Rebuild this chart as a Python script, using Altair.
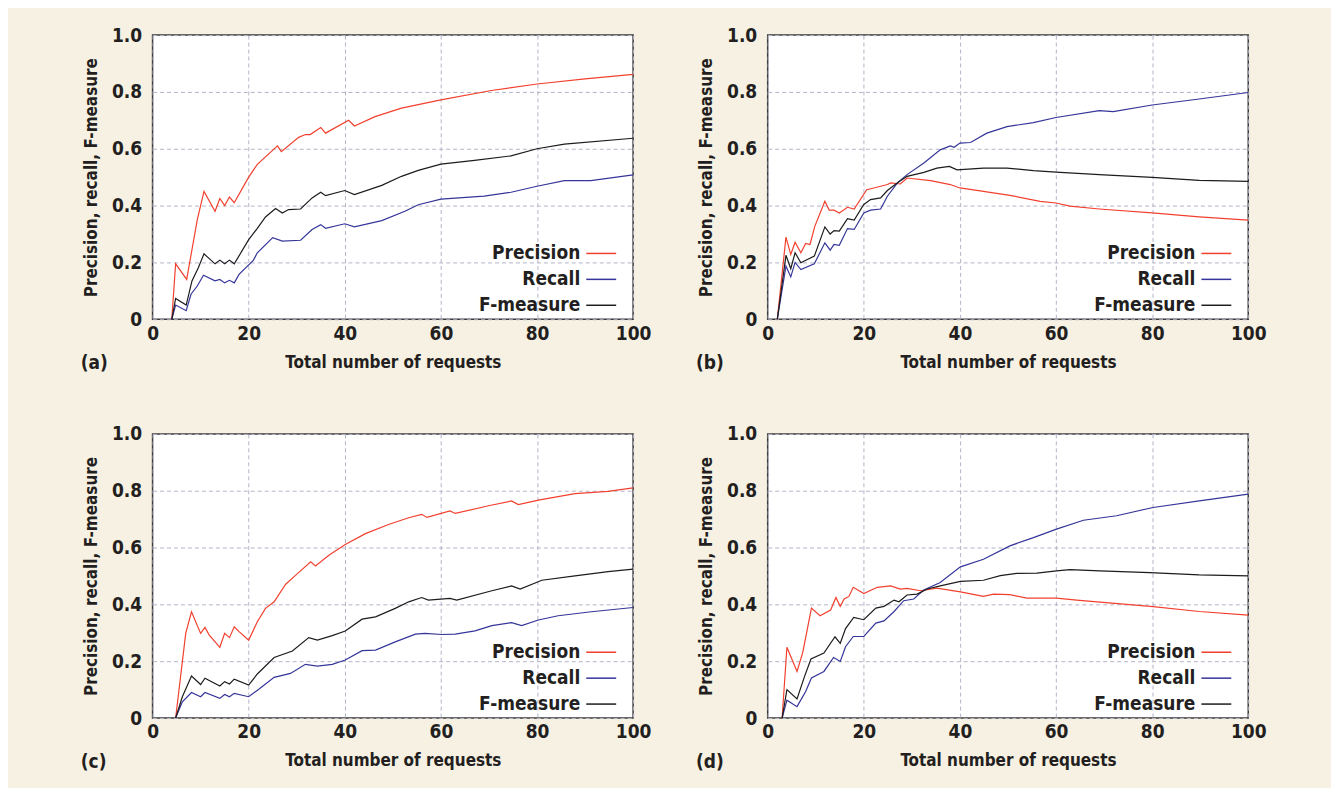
import altair as alt
import pandas as pd

# ---------------- data ----------------
# Panel (a)
a_prec_x = [4, 4.8, 7.1, 9.3, 10.7, 13, 14, 15, 16, 17, 20, 21.8, 26, 26.8, 30.4, 31.8, 32.8, 35, 36, 40.8, 42, 46.3, 51.8, 60, 70.5, 80, 90, 100]
a_prec_y = [0, 0.195, 0.14, 0.35, 0.45, 0.38, 0.425, 0.40, 0.43, 0.41, 0.50, 0.545, 0.61, 0.59, 0.64, 0.65, 0.65, 0.675, 0.655, 0.70, 0.68, 0.713, 0.743, 0.772, 0.805, 0.828, 0.846, 0.862]
a_rec_x = [4, 4.8, 7, 8, 9.3, 10.6, 13, 14, 15, 16, 17, 18, 21, 21.8, 25, 27, 30.8, 33.2, 35, 36, 40, 42, 47.7, 52.5, 55.3, 60, 69, 74.6, 80, 85.7, 91.2, 100]
a_rec_y = [0, 0.05, 0.03, 0.088, 0.117, 0.155, 0.135, 0.14, 0.128, 0.137, 0.128, 0.158, 0.208, 0.234, 0.287, 0.275, 0.278, 0.316, 0.333, 0.32, 0.336, 0.325, 0.347, 0.38, 0.403, 0.423, 0.433, 0.447, 0.468, 0.488, 0.488, 0.508]
a_f_x = [4, 4.8, 7, 8.2, 9.5, 10.7, 13, 14, 15, 16, 17, 20, 21.8, 23.5, 25.6, 27, 28.3, 30.8, 33.2, 35, 36, 40, 42, 47.7, 51.8, 55.3, 60, 67, 74.6, 80, 85.7, 100]
a_f_y = [0, 0.073, 0.05, 0.135, 0.18, 0.23, 0.195, 0.208, 0.195, 0.208, 0.195, 0.28, 0.32, 0.36, 0.39, 0.374, 0.386, 0.388, 0.427, 0.447, 0.435, 0.453, 0.439, 0.471, 0.503, 0.524, 0.546, 0.559, 0.575, 0.60, 0.616, 0.637]

# Panel (b)
b_prec_x = [2, 3.8, 4.8, 5.7, 6.9, 7.9, 8.8, 9.8, 11.9, 12.8, 13.8, 14.9, 16.6, 18, 20.6, 22.1, 24.9, 25.6, 27.6, 29, 33.9, 38, 40, 44.9, 50.4, 56.7, 60, 62.9, 69, 80, 89.8, 100]
b_prec_y = [0, 0.289, 0.228, 0.271, 0.234, 0.267, 0.263, 0.327, 0.415, 0.384, 0.384, 0.374, 0.394, 0.388, 0.456, 0.462, 0.474, 0.48, 0.476, 0.497, 0.488, 0.474, 0.462, 0.45, 0.436, 0.415, 0.409, 0.398, 0.388, 0.374, 0.36, 0.349]
b_rec_x = [2, 3.8, 4.8, 5.7, 6.9, 9.7, 11.9, 13, 13.8, 14.9, 16.6, 18, 20, 21.4, 23.5, 24.9, 27, 29, 32.5, 35.9, 38, 38.8, 40, 42.2, 45.6, 49.8, 55.3, 60, 69, 71.9, 80, 89.8, 100]
b_rec_y = [0, 0.187, 0.149, 0.2, 0.175, 0.195, 0.269, 0.243, 0.263, 0.26, 0.319, 0.316, 0.374, 0.384, 0.388, 0.433, 0.48, 0.509, 0.55, 0.596, 0.61, 0.605, 0.62, 0.622, 0.655, 0.678, 0.692, 0.71, 0.734, 0.731, 0.754, 0.775, 0.798]
b_f_x = [2, 3.8, 4.8, 5.7, 6.9, 9.7, 11.9, 13, 13.8, 14.9, 16.6, 18, 20, 21.4, 23.5, 24.9, 27, 29, 32.5, 35.2, 37.8, 39.4, 44.9, 49.8, 55.3, 60, 69, 80, 89.8, 100]
b_f_y = [0, 0.225, 0.178, 0.234, 0.199, 0.222, 0.325, 0.30, 0.312, 0.31, 0.354, 0.349, 0.404, 0.421, 0.427, 0.453, 0.48, 0.503, 0.517, 0.532, 0.538, 0.526, 0.532, 0.532, 0.523, 0.518, 0.509, 0.499, 0.489, 0.485]

# Panel (c)
c_prec_x = [4.8, 6.9, 8.1, 10, 10.9, 11.8, 14, 15, 16, 17, 18, 20, 21.8, 23.5, 25.3, 27.7, 29.8, 32.9, 33.9, 36.7, 40.1, 44.3, 49.1, 53.3, 56, 57.1, 61.9, 63, 69.9, 74.7, 76.1, 80.3, 87.9, 94.8, 100]
c_prec_y = [0, 0.298, 0.374, 0.298, 0.319, 0.292, 0.249, 0.298, 0.283, 0.321, 0.304, 0.274, 0.339, 0.386, 0.409, 0.471, 0.503, 0.55, 0.535, 0.573, 0.611, 0.649, 0.681, 0.705, 0.717, 0.706, 0.729, 0.72, 0.747, 0.764, 0.751, 0.767, 0.79, 0.798, 0.81]
c_rec_x = [4.8, 6.2, 8.1, 10, 10.9, 14, 15, 16, 17, 20, 22.1, 25.3, 28.7, 31.8, 34.3, 37.4, 40.1, 43.6, 46.4, 50.5, 54.7, 56.7, 60.2, 63, 67.1, 70.6, 74.7, 76.8, 80.3, 84.4, 91.3, 100]
c_rec_y = [0, 0.057, 0.09, 0.075, 0.09, 0.069, 0.083, 0.075, 0.087, 0.075, 0.101, 0.143, 0.157, 0.189, 0.183, 0.189, 0.204, 0.237, 0.239, 0.268, 0.295, 0.298, 0.294, 0.295, 0.307, 0.325, 0.336, 0.325, 0.345, 0.36, 0.374, 0.389]
c_f_x = [4.8, 6.2, 8.1, 10, 10.9, 14, 15, 16, 17, 20, 21.8, 25.3, 29.1, 32.5, 34.3, 37.4, 40.1, 43.6, 46.4, 50.5, 53.3, 56, 57.4, 61.9, 63.3, 70.6, 74.7, 76.5, 81, 87.9, 94.8, 100]
c_f_y = [0, 0.075, 0.148, 0.118, 0.14, 0.113, 0.128, 0.12, 0.137, 0.116, 0.155, 0.213, 0.236, 0.283, 0.274, 0.29, 0.306, 0.348, 0.356, 0.386, 0.409, 0.424, 0.415, 0.421, 0.415, 0.448, 0.465, 0.454, 0.485, 0.50, 0.515, 0.524]

# Panel (d)
d_prec_x = [3, 4, 6.1, 7.3, 9.1, 10.9, 13.1, 14.2, 15.1, 15.9, 16.9, 17.8, 20, 22.8, 25.6, 27.6, 29, 31.8, 35.2, 40.1, 44.9, 47, 50.4, 53.9, 60.1, 64.3, 69.8, 80.2, 89.8, 100]
d_prec_y = [0, 0.249, 0.164, 0.231, 0.387, 0.36, 0.38, 0.424, 0.393, 0.419, 0.428, 0.46, 0.438, 0.46, 0.465, 0.454, 0.456, 0.448, 0.457, 0.444, 0.428, 0.436, 0.434, 0.422, 0.422, 0.415, 0.407, 0.392, 0.375, 0.362]
d_rec_x = [3, 4, 6.1, 7.9, 9.1, 11.7, 13.7, 15.1, 16.2, 17.8, 20, 22.5, 24.2, 26.3, 28.3, 30.4, 32.5, 35.9, 40.1, 44.9, 50.4, 55.3, 60.1, 65.7, 72.6, 80.2, 89.8, 100]
d_rec_y = [0, 0.063, 0.04, 0.093, 0.141, 0.164, 0.213, 0.199, 0.251, 0.287, 0.287, 0.334, 0.342, 0.375, 0.413, 0.419, 0.451, 0.477, 0.532, 0.559, 0.606, 0.635, 0.665, 0.696, 0.712, 0.741, 0.764, 0.788]
d_f_x = [3, 4, 6.1, 7.6, 9, 11.7, 14, 15.1, 16.2, 17.9, 20, 22.5, 24.2, 26.3, 27.3, 29, 31.1, 33.2, 35.9, 40.1, 44.9, 48.4, 51.8, 56, 60.1, 62.9, 69.1, 79.5, 89.8, 100]
d_f_y = [0, 0.1, 0.067, 0.143, 0.208, 0.229, 0.286, 0.263, 0.315, 0.354, 0.346, 0.387, 0.393, 0.415, 0.409, 0.433, 0.436, 0.454, 0.465, 0.481, 0.485, 0.501, 0.509, 0.51, 0.518, 0.522, 0.518, 0.512, 0.504, 0.50]

series_names = ["Precision", "Recall", "F-measure"]
series_colors = ["#f2402f", "#35359a", "#1c1c1c"]
panel_tags = ["(a)", "(b)", "(c)", "(d)"]
x_ticks = [0, 20, 40, 60, 80, 100]
y_ticks = [0, 0.2, 0.4, 0.6, 0.8, 1.0]

FONT = "DejaVu Sans Condensed, Liberation Sans Narrow, sans-serif"
TXT = "#231f20"
W, H = 482, 285


def make_df(px, py, rx, ry, fx, fy):
    rows = []
    for name, xs, ys in zip(series_names, [px, rx, fx], [py, ry, fy]):
        for i, (xv, yv) in enumerate(zip(xs, ys)):
            rows.append({"x": xv, "y": yv, "series": name, "order": i})
    return pd.DataFrame(rows)


def panel(df, tag):
    lines = alt.Chart(df).mark_line(strokeWidth=1.2).encode(
        x=alt.X("x:Q",
                scale=alt.Scale(domain=[0, 100], nice=False, zero=True),
                axis=alt.Axis(values=x_ticks, title="Total number of requests",
                              labelFlush=False, labelPadding=5, titlePadding=11)),
        y=alt.Y("y:Q",
                scale=alt.Scale(domain=[0, 1], nice=False),
                axis=alt.Axis(values=y_ticks, title="Precision, recall, F-measure",
                              labelFlush=False,
                              labelExpr="datum.value == 0 ? '0' : format(datum.value, '.1f')",
                              labelPadding=11, titlePadding=11)),
        color=alt.Color("series:N",
                        scale=alt.Scale(domain=series_names, range=series_colors),
                        legend=alt.Legend(title=None, orient="none", legendX=434, legendY=203,
                                          symbolType="stroke", symbolSize=900,
                                          symbolStrokeWidth=1.5, labelAlign="right",
                                          labelOffset=alt.ExprRef("-37"), rowPadding=0,
                                          labelFont=FONT, labelFontSize=19,
                                          labelFontWeight="bold", labelColor=TXT)),
        order="order:Q",
        detail="series:N",
    )
    label = alt.Chart(pd.DataFrame({"t": [tag]})).mark_text(
        align="left", baseline="alphabetic", font=FONT, fontSize=19,
        fontWeight="bold", color=TXT
    ).encode(text="t:N", x=alt.value(-72), y=alt.value(H + 50))
    return alt.layer(lines, label).properties(width=W, height=H)


pa = panel(make_df(a_prec_x, a_prec_y, a_rec_x, a_rec_y, a_f_x, a_f_y), panel_tags[0])
pb = panel(make_df(b_prec_x, b_prec_y, b_rec_x, b_rec_y, b_f_x, b_f_y), panel_tags[1])
pc = panel(make_df(c_prec_x, c_prec_y, c_rec_x, c_rec_y, c_f_x, c_f_y), panel_tags[2])
pd_ = panel(make_df(d_prec_x, d_prec_y, d_rec_x, d_rec_y, d_f_x, d_f_y), panel_tags[3])

chart = alt.concat(
    pa, pb, pc, pd_, columns=2,
    spacing=alt.RowColnumber(row=115, column=135), bounds="flush",
).resolve_legend(color="independent").resolve_scale(color="independent").properties(
    background="#f7f1e3",
    padding={"left": 72, "top": 16, "right": 64, "bottom": 14},
).configure(
    font=FONT,
).configure_view(
    fill="white", stroke="#3a3a3a", strokeWidth=1.5
).configure_axis(
    labelFont=FONT, labelFontSize=19, labelFontWeight="bold", labelColor=TXT,
    titleFont=FONT, titleFontSize=17, titleFontWeight="bold", titleColor=TXT,
    grid=True, gridColor="#b4b4c8", gridDash=[4, 3], gridWidth=1,
    domain=False, ticks=False,
)

chart.save("out.html", embed_options={"renderer": "svg", "actions": False})
